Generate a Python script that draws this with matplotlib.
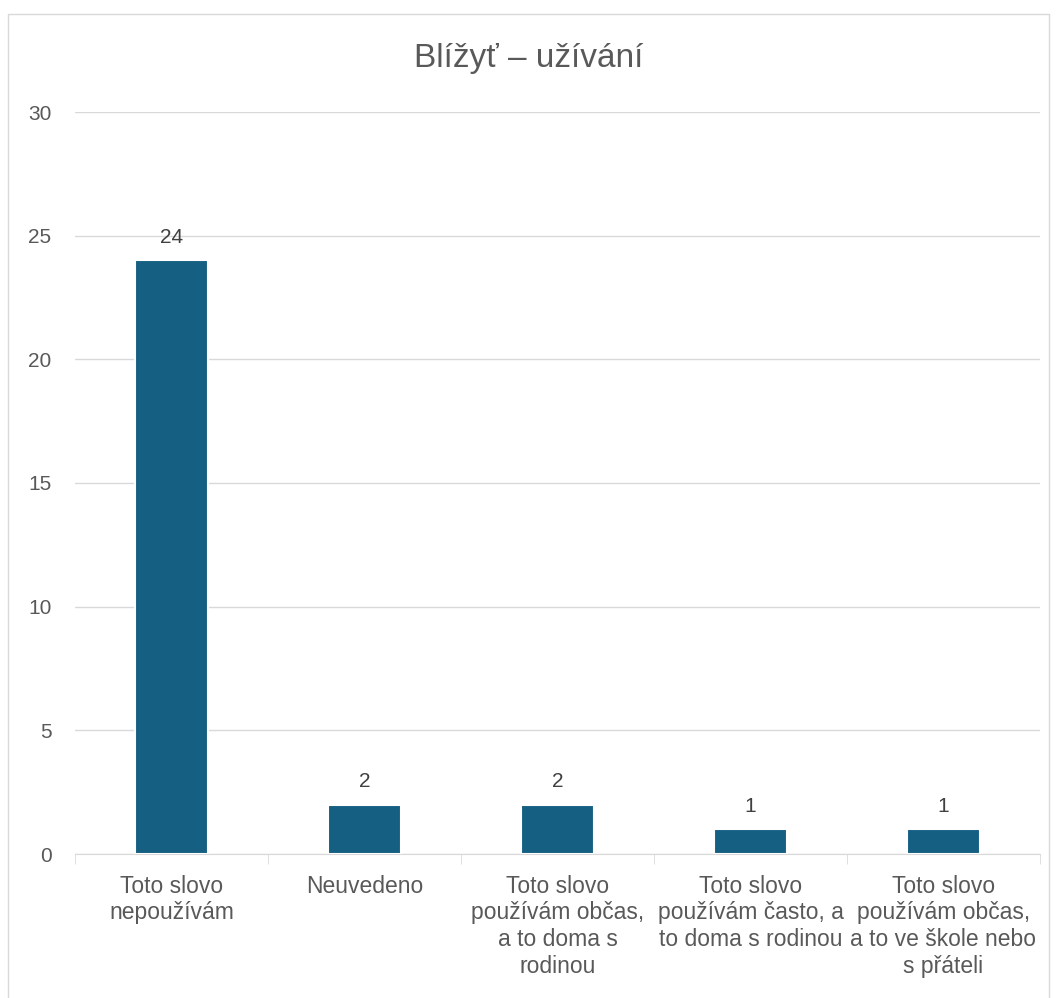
import matplotlib.pyplot as plt
import matplotlib.patches as patches
import numpy as np

plt.rcParams['font.family'] = ['Liberation Sans Narrow', 'Liberation Sans', 'DejaVu Sans']

categories = ['Toto slovo\nnepoužívám',
              'Neuvedeno',
              'Toto slovo\npoužívám občas,\na to doma s\nrodinou',
              'Toto slovo\npoužívám často, a\nto doma s rodinou',
              'Toto slovo\npoužívám občas,\na to ve škole nebo\ns přáteli']
values = [24, 2, 2, 1, 1]
yticks = [0, 5, 10, 15, 20, 25, 30]
title = 'Blížyť – užívání'

bar_color = '#156082'
text_color = '#595959'

fig = plt.figure(figsize=(10.57, 9.98), dpi=100)
# chart border
fig.patches.append(patches.Rectangle((8/1057, -0.01), 1041/1057, 1 - 14/998 + 0.01,
                                     transform=fig.transFigure, fill=False,
                                     edgecolor='#D9D9D9', linewidth=1))
ax = fig.add_axes([75/1057, 1 - 854/998, 965/1057, 742/998])

x = np.arange(len(values))
bars = ax.bar(x, values, width=0.38, color=bar_color, edgecolor='white',
              linewidth=1.5, zorder=3)
for xi, v in zip(x, values):
    ax.text(xi, v + 0.55, str(v), ha='center', va='bottom', fontsize=15, color='#404040')

ax.set_xlim(-0.5, len(values) - 0.5)
ax.set_ylim(0, 30)
ax.set_yticks(yticks)
ax.set_yticklabels([str(t) for t in yticks], fontsize=15, color=text_color)
ax.grid(axis='y', color='#D9D9D9', linewidth=1, zorder=0)
ax.tick_params(axis='y', length=0, pad=17)

ax.set_xticks(x)
ax.set_xticklabels(categories, fontsize=16.5, color=text_color, linespacing=1.2)
ax.tick_params(axis='x', length=0, pad=15)
ax.set_xticks(np.arange(-0.5, len(values)), minor=True)
ax.tick_params(axis='x', which='minor', length=7, color='#D9D9D9')

for s in ['top', 'right', 'left']:
    ax.spines[s].set_visible(False)
ax.spines['bottom'].set_color('#D9D9D9')

fig.text(0.5, 1 - 59/998, title, ha='center', va='center', fontsize=24, color=text_color)

plt.savefig('out.png', dpi=100)
